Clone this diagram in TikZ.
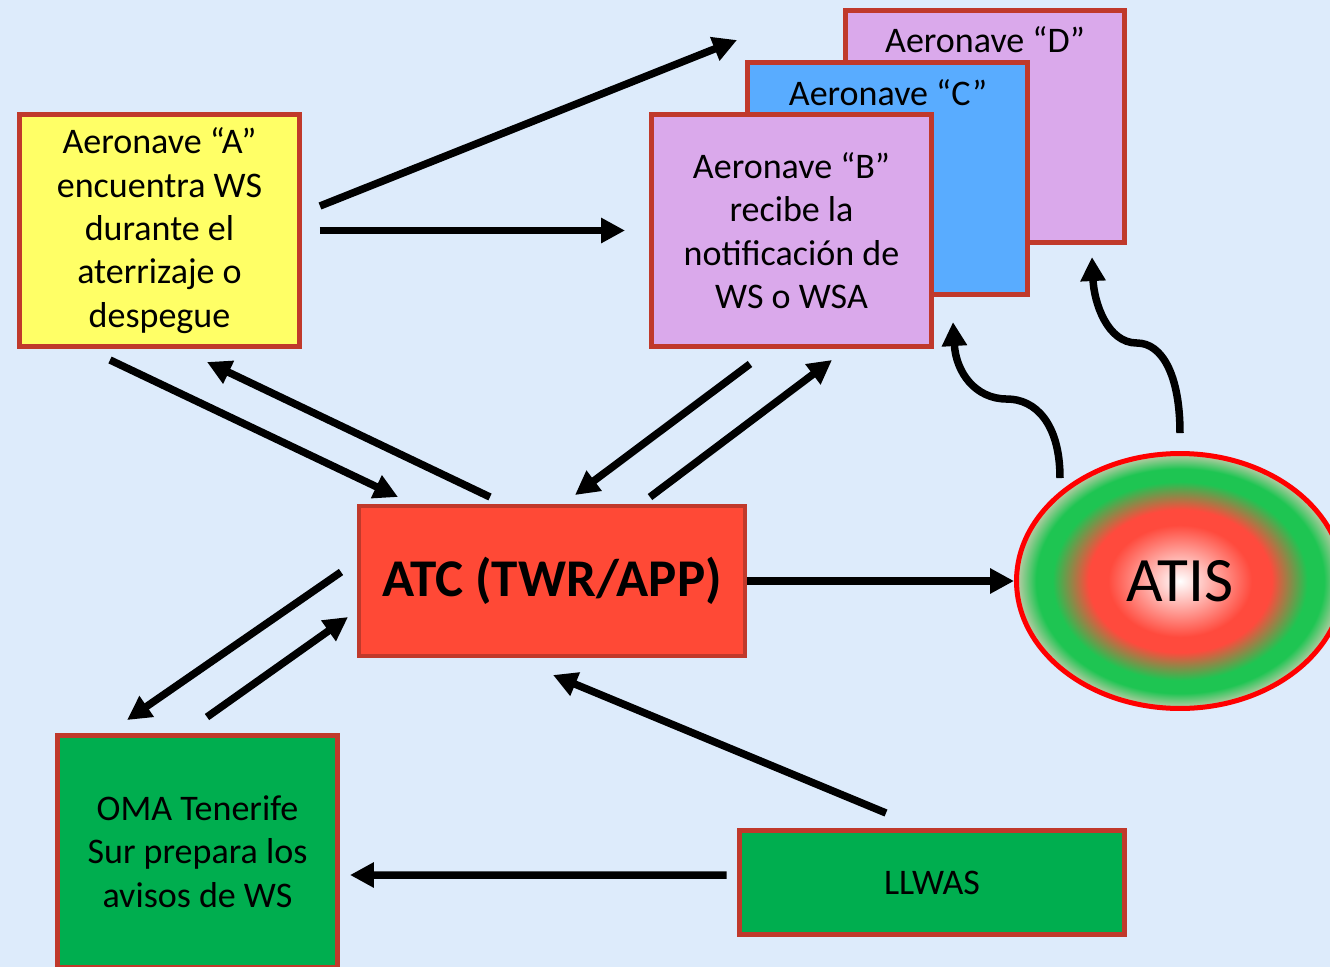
\documentclass[tikz,border=0pt]{standalone}
\usepackage{fontspec}
\setmainfont{Carlito}
\usetikzlibrary{arrows.meta,shapes.geometric}

\definecolor{fondo}{HTML}{DDEBFB}
\definecolor{borde}{HTML}{C0392B}
\definecolor{amarillo}{HTML}{FFFF66}
\definecolor{lila}{HTML}{DAA9EB}
\definecolor{azul}{HTML}{59ACFF}
\definecolor{rojoatc}{HTML}{FF4936}
\definecolor{verde}{HTML}{00AE4F}
\definecolor{rojoatis}{HTML}{FF4A3D}
\definecolor{verdeatis}{HTML}{1EC552}
\definecolor{palido}{HTML}{DCCDB8}

\pgfdeclareradialshading{sombraatis}{\pgfpoint{0bp}{0bp}}{color(0bp)=(white); color(11bp)=(rojoatis); color(14bp)=(rojoatis); color(19.5bp)=(verdeatis); color(22bp)=(verdeatis); color(25.5bp)=(palido); color(50bp)=(palido)}

\begin{document}
\begin{tikzpicture}[x=0.02cm,y=-0.02cm,
                    caja/.style={rectangle,draw=borde,line width=0.1cm,align=center,inner sep=0pt,
                                 minimum width=5.6cm,minimum height=4.64cm,
                                 font=\fontsize{20.5pt}{24.7pt}\selectfont},
                    ancha/.style={caja,minimum width=7.72cm},
                    titulo/.style={font=\fontsize{20.5pt}{24.7pt}\selectfont},
                    flecha/.style={-{Triangle[length=0.48cm,width=0.48cm]},line width=0.15cm}]

 \clip (0,0) rectangle (1330,967);
 \fill[fondo] (0,0) rectangle (1330,967);

 \node[caja,fill=amarillo] (A) at (159.5,230.5) {Aeronave “A”\\encuentra WS\\durante el\\aterrizaje o\\despegue};

 \node[caja,fill=lila] (D) at (985,126.5) {};
 \node[titulo] (tituloD) at (985,40) {Aeronave “D”};

 \node[caja,fill=azul] (C) at (887.5,178.5) {};
 \node[titulo] (tituloC) at (888,93) {Aeronave “C”};

 \node[caja,fill=lila] (B) at (791.5,230.5) {Aeronave “B”\\recibe la\\notificación de\\WS o WSA};

 \node[ancha,fill=rojoatc,line width=0.08cm,minimum height=3cm,
       font=\fontsize{30.2pt}{34pt}\selectfont\bfseries] (atc) at (552,581) {ATC (TWR/APP)};

 \node[ellipse,draw=red,line width=0.1cm,shade,shading=sombraatis,inner sep=0pt,
       minimum width=6.54cm,minimum height=5.1cm,
       font=\fontsize{36pt}{42pt}\selectfont] (atis) at (1180,581) {ATIS};

 \node[caja,fill=verde] (oma) at (197.5,851.5) {OMA Tenerife\\Sur prepara los\\avisos de WS};

 \node[ancha,fill=verde,minimum height=2.08cm] (llwas) at (932,882.5) {LLWAS};

  \path[flecha]
    ([shift={(18,-24.5)}]A.east) edge ([shift={(-8,-20)}]C.north west)
    ([shift={(18,0)}]A.east) edge ([shift={(-24,0)}]B.west)
    ([shift={(-49.5,11)}]A.south) edge ([shift={(-154,-7)}]atc.north)
    ([shift={(-62,-7)}]atc.north) edge ([shift={(47.5,13)}]A.south)
    ([shift={(-41.5,15)}]B.south) edge ([shift={(23,-9)}]atc.north)
    ([shift={(98,-7)}]atc.north) edge ([shift={(40.5,11)}]B.south)
    (atc.east) edge (atis.west)
    ([shift={(-16,-9)}]atc.west) edge ([shift={(-70.5,-13)}]oma.north)
    ([shift={(9.5,-16)}]oma.north) edge ([shift={(-9,36)}]atc.west)
    ([shift={(-46,-15)}]llwas.north) edge ([shift={(1,17)}]atc.south)
    ([shift={(-10,-7.5)}]llwas.west) edge ([shift={(10,23.5)}]oma.east);

  \draw[flecha] ([shift={(-120,27)}]atis.north)
    .. controls +(0,-55) and +(28,0) .. ++(-53,-79)
    .. controls +(-32,0) and +(3,50) .. ++(-54,-77);
  \draw[flecha] ([shift={(0,-18)}]atis.north)
    .. controls +(0,-58) and +(25,0) .. ++(-43,-90)
    .. controls +(-30,0) and +(2,45) .. ++(-45,-86);

\end{tikzpicture}
\end{document}
